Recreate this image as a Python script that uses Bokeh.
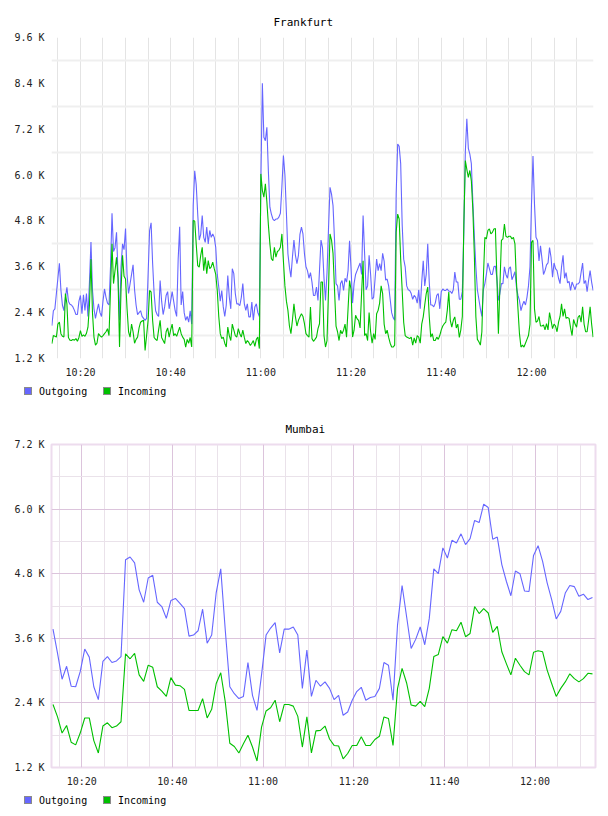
import pandas as pd
from bokeh.embed import file_html
from bokeh.layouts import column
from bokeh.models import (DatetimeTickFormatter, Div, FixedTicker,
                          PrintfTickFormatter, Range1d)
from bokeh.plotting import figure
from bokeh.resources import INLINE

DAY = "2024-05-14"

# Frankfurt traffic, one sample every 20 seconds, in thousands
fra_start = "10:13:40"
fra_step = "20s"
fra_outgoing = [
    2.06, 2.45, 2.5, 2.9, 3.3, 3.69, 3.0, 2.6, 2.45, 2.8,
    3.06, 2.7, 2.62, 2.6, 2.55, 2.46, 2.35, 2.35, 2.7, 2.85,
    2.37, 2.87, 2.46, 2.9, 2.3, 3.2, 4.25, 3.0, 2.5, 2.25,
    2.45, 2.63, 2.4, 2.3, 2.7, 3.02, 2.8, 2.65, 2.6, 3.6,
    5.0, 4.0, 4.1, 4.5, 3.4, 2.2, 3.6, 4.2, 4.05, 4.6,
    3.4, 2.9, 3.15, 3.4, 3.65, 3.0, 2.6, 2.35, 2.4, 2.45,
    2.3, 2.25, 2.2, 2.25, 3.4, 4.55, 4.75, 3.7, 2.9, 2.45,
    2.35, 2.3, 3.24, 2.7, 2.35, 2.55, 2.85, 2.95, 2.5, 2.7,
    2.95, 2.7, 2.45, 2.3, 3.8, 4.65, 2.6, 2.95, 2.4, 2.2,
    2.3, 2.15, 2.45, 2.1, 5.2, 6.11, 5.75, 4.98, 4.3, 4.45,
    4.94, 4.37, 4.24, 4.64, 4.2, 4.55, 4.37, 4.46, 4.37, 4.1,
    3.4, 3.07, 2.7, 2.98, 2.55, 2.3, 2.6, 3.37, 2.81, 2.5,
    3.55, 3.42, 2.9, 2.63, 2.63, 2.58, 2.8, 3.16, 2.63, 2.46,
    2.63, 2.29, 2.29, 2.68, 2.2, 2.55, 2.63, 2.4, 2.3, 5.8,
    8.4, 6.99, 6.9, 7.25, 6.1, 5.16, 4.98, 4.85, 4.81, 4.85,
    4.85, 4.9, 5.0, 5.7, 6.51, 6.0, 5.0, 3.94, 3.59, 3.33,
    3.85, 4.3, 3.9, 3.68, 3.9, 4.45, 4.64, 4.46, 3.94, 3.6,
    3.5, 3.3, 3.45, 3.2, 2.85, 2.85, 3.07, 2.72, 3.5, 4.3,
    4.1, 3.3, 2.72, 3.45, 4.6, 5.68, 5.5, 5.2, 4.3, 3.16,
    3.1, 2.72, 3.16, 3.24, 2.98, 3.3, 3.2, 3.5, 4.28, 3.55,
    2.65, 3.16, 3.4, 3.5, 3.6, 3.7, 3.4, 4.94, 3.95, 3.0,
    3.1, 3.9, 3.4, 2.75, 2.8, 3.3, 3.8, 3.5, 3.68, 3.5,
    3.95, 3.75, 3.25, 3.28, 3.1, 2.75, 2.4, 2.27, 2.2, 5.5,
    6.81, 6.75, 6.3, 4.7, 3.8, 3.6, 3.1, 3.0, 2.98, 2.9,
    2.75, 2.85, 2.8, 2.65, 3.0, 2.5, 3.2, 3.76, 3.1, 3.4,
    4.2, 3.2, 2.6, 2.6, 2.55, 2.65, 2.85, 2.9, 2.5, 2.95,
    3.02, 2.98, 2.98, 3.02, 2.96, 2.96, 2.9, 3.0, 3.46, 3.2,
    3.2, 2.75, 2.75, 2.95, 4.5, 6.6, 7.47, 6.7, 6.55, 6.3,
    5.3, 4.4, 3.6, 3.0, 2.75, 2.5, 2.3, 3.0, 3.16, 3.4,
    3.7, 3.55, 3.4, 3.4, 3.6, 3.62, 3.3, 2.72, 2.9, 3.16,
    3.16, 3.6, 3.4, 3.3, 3.55, 3.6, 3.26, 3.36, 3.47, 3.07,
    2.85, 2.72, 2.45, 2.6, 2.7, 2.6, 2.8, 3.1, 3.6, 5.24,
    6.5, 5.24, 4.37, 4.29, 3.75, 4.15, 3.8, 3.4, 3.5, 3.65,
    3.7, 4.1, 3.85, 3.33, 3.7, 3.55, 3.5, 3.3, 3.16, 3.6,
    3.9, 3.3, 3.45, 3.18, 3.22, 2.98, 3.2, 3.1, 3.0, 3.15,
    3.15, 3.2, 3.45, 3.7, 3.16, 3.24, 2.95, 3.25, 3.5, 3.2,
    2.98,
]
fra_incoming = [
    1.59, 1.8, 1.78, 1.76, 2.1, 2.15, 1.85, 1.78, 1.76, 2.9,
    2.63, 1.75, 1.68, 1.67, 1.7, 1.68, 1.72, 1.65, 1.75, 1.93,
    1.78, 1.82, 1.78, 1.86, 2.02, 2.6, 3.8, 2.4, 1.76, 1.55,
    1.6, 1.85, 1.8, 1.76, 1.8, 1.85, 1.9, 1.98, 1.8, 3.0,
    4.2, 3.16, 3.5, 3.85, 3.3, 1.5, 3.0, 3.9, 3.35, 3.28,
    2.5, 1.9, 1.76, 2.1, 1.9, 1.6, 1.7, 1.76, 2.0, 2.15,
    2.18, 2.2, 1.41, 1.8, 2.2, 2.98, 2.94, 2.2, 1.75, 1.7,
    1.67, 1.95, 2.2, 1.75, 1.67, 1.59, 1.9, 2.0, 1.76, 1.95,
    2.1, 1.8, 1.85, 1.78, 1.9, 2.02, 1.85, 1.76, 1.7, 1.5,
    1.7, 1.6, 1.75, 1.5, 4.81, 4.8, 4.2, 3.63, 3.59, 3.9,
    4.11, 3.5, 3.85, 3.42, 3.76, 3.55, 3.6, 3.72, 3.55, 3.4,
    2.98, 2.3, 1.85, 1.72, 1.76, 1.6, 1.5, 2.02, 1.8, 1.67,
    2.1, 1.95, 1.8, 1.76, 1.98, 1.85, 1.76, 1.94, 1.75, 1.59,
    1.67, 1.62, 1.54, 1.6, 1.67, 1.52, 1.7, 1.76, 1.46, 6.03,
    5.6, 5.42, 5.77, 5.3, 4.7, 4.2, 3.81, 3.76, 4.11, 3.85,
    4.0, 4.03, 4.11, 4.46, 3.75, 3.1, 2.7, 2.46, 2.05, 1.85,
    2.2, 2.63, 2.29, 2.05, 2.2, 2.29, 2.37, 2.3, 2.11, 1.85,
    1.8, 1.76, 2.55, 1.72, 1.65, 1.7, 1.76, 1.98, 2.11, 3.2,
    3.2, 1.8, 1.5, 1.67, 3.0, 4.46, 4.3, 3.95, 3.0, 2.05,
    1.9, 1.67, 1.94, 1.85, 1.94, 2.1, 1.76, 2.5, 3.24, 3.0,
    1.76, 1.94, 2.33, 2.24, 2.2, 2.0, 2.9, 3.76, 1.8, 1.85,
    1.67, 2.4, 1.9, 1.6, 1.85, 1.7, 2.37, 2.46, 2.65, 3.1,
    2.9, 2.1, 1.85, 1.94, 1.75, 1.6, 1.5, 1.5, 1.55, 4.5,
    4.98, 4.85, 3.8, 2.98, 2.15, 1.8, 1.76, 1.74, 1.72, 1.76,
    1.55, 1.74, 1.6, 1.8, 1.76, 1.6, 2.1, 2.29, 2.6, 2.9,
    3.07, 2.3, 1.76, 1.85, 1.67, 1.67, 1.76, 1.7, 1.8, 1.95,
    2.05, 2.11, 2.15, 2.46, 2.94, 2.2, 2.02, 2.2, 2.29, 2.0,
    2.1, 1.75, 1.95, 2.3, 4.7, 6.38, 6.15, 5.94, 6.12, 5.85,
    5.1, 3.9, 2.3, 1.7, 1.64, 1.55, 1.9, 3.3, 4.37, 4.33,
    4.55, 4.59, 4.46, 4.5, 4.59, 4.6, 3.3, 1.85, 3.1, 4.29,
    4.33, 4.72, 4.4, 4.37, 4.4, 4.4, 4.33, 4.37, 4.2, 3.2,
    2.5, 1.85, 1.5, 1.55, 1.5, 1.6, 1.7, 1.8, 2.1, 4.24,
    4.29, 2.5, 2.15, 2.18, 2.3, 2.05, 2.05, 2.08, 1.95, 2.11,
    1.95, 2.4, 2.2, 1.98, 2.1, 2.05, 1.9, 2.15, 2.3, 2.63,
    2.3, 2.5, 2.25, 2.27, 2.25, 2.0, 1.8, 2.22, 2.1, 2.02,
    2.28, 2.33, 2.15, 2.55, 2.1, 1.9, 1.9, 2.2, 2.55, 2.1,
    1.76,
]

# Mumbai traffic, one sample per minute, in thousands
mum_start = "10:13:40"
mum_step = "60s"
mum_outgoing = [
    3.77, 3.32, 2.84, 3.08, 2.71, 2.70, 2.98, 3.40, 3.25, 2.70,
    2.46, 3.17, 3.26, 3.15, 3.18, 3.26, 5.06, 5.11, 5.0, 4.5,
    4.27, 4.72, 4.77, 4.27, 4.19, 3.97, 4.30, 4.34, 4.25, 4.15,
    3.64, 3.66, 3.74, 4.14, 3.51, 3.66, 4.45, 4.89, 3.75, 2.70,
    2.57, 2.48, 2.52, 3.15, 2.54, 2.26, 2.92, 3.66, 3.79, 3.89,
    3.33, 3.77, 3.77, 3.81, 3.66, 2.67, 3.38, 2.52, 2.82, 2.71,
    2.79, 2.67, 2.46, 2.54, 2.17, 2.23, 2.45, 2.61, 2.69, 2.45,
    2.50, 2.52, 2.67, 3.15, 3.10, 2.45, 3.85, 4.58, 4.0, 3.41,
    3.58, 3.81, 3.48, 3.97, 4.89, 4.80, 5.28, 5.09, 5.42, 5.37,
    5.54, 5.34, 5.45, 5.79, 5.75, 6.09, 6.03, 5.44, 5.48, 4.97,
    4.66, 4.39, 4.85, 4.80, 4.48, 4.47, 5.14, 5.32, 5.03, 4.63,
    4.32, 3.96, 4.1, 4.44, 4.58, 4.56, 4.38, 4.42, 4.32, 4.36,
]
mum_incoming = [
    2.37, 2.14, 1.84, 1.98, 1.67, 1.62, 1.84, 2.12, 2.12, 1.70,
    1.47, 1.97, 2.03, 1.94, 1.97, 2.05, 3.31, 3.22, 3.32, 2.92,
    2.80, 3.10, 3.06, 2.70, 2.62, 2.52, 2.87, 2.73, 2.72, 2.65,
    2.26, 2.26, 2.26, 2.48, 2.12, 2.28, 2.76, 2.96, 2.42, 1.65,
    1.59, 1.47, 1.64, 1.80, 1.58, 1.32, 1.95, 2.25, 2.31, 2.45,
    2.05, 2.37, 2.37, 2.34, 2.15, 1.58, 2.14, 1.47, 1.88, 1.89,
    1.97, 1.73, 1.61, 1.60, 1.36, 1.46, 1.61, 1.61, 1.77, 1.61,
    1.61, 1.72, 1.78, 2.14, 2.11, 1.61, 2.67, 3.04, 2.77, 2.36,
    2.34, 2.43, 2.33, 2.67, 3.26, 3.30, 3.63, 3.51, 3.76, 3.74,
    3.90, 3.63, 3.69, 4.19, 4.06, 4.15, 4.07, 3.71, 3.82, 3.35,
    3.13, 2.92, 3.23, 3.10, 2.98, 2.92, 3.34, 3.37, 3.35, 3.01,
    2.76, 2.52, 2.67, 2.79, 2.94, 2.85, 2.79, 2.85, 2.95, 2.94,
]

time_labels = ["10:20", "10:40", "11:00", "11:20", "11:40", "12:00"]
fra_y_labels = [1.2, 2.4, 3.6, 4.8, 6.0, 7.2, 8.4, 9.6]
fra_y_grid = [1.8, 3.0, 4.2, 5.4, 6.6, 7.8, 9.0]
mum_y_labels = [1.2, 2.4, 3.6, 4.8, 6.0, 7.2]
mum_y_grid = [1.8, 3.0, 4.2, 5.4, 6.6]
series_names = ["Outgoing", "Incoming"]

BLUE = "#6666ff"
GREEN = "#00c000"
MONO = "DejaVu Sans Mono"


def ms(hhmmss):
    return pd.Timestamp(f"{DAY} {hhmmss}").value / 1e6


label_ticks = [ms(t) for t in time_labels]
five_min_ticks = [t.value / 1e6 for t in pd.date_range(f"{DAY} 10:15", f"{DAY} 12:10", freq="5min")]
minor_x_ticks = [t for t in five_min_ticks if t not in label_ticks]


def build(name, start, step, outgoing, incoming, x_window, y_labels,
          frame, borders, title_offset):
    times = pd.date_range(f"{DAY} {start}", periods=len(outgoing), freq=step)
    left, right, top, bottom = borders
    p = figure(
        x_axis_type="datetime",
        x_range=Range1d(ms(x_window[0]), ms(x_window[1])),
        y_range=Range1d(y_labels[0], y_labels[-1]),
        frame_width=frame[0], frame_height=frame[1],
        min_border_left=left, min_border_right=right,
        min_border_top=top, min_border_bottom=bottom,
        output_backend="svg", toolbar_location=None,
        background_fill_color="white", border_fill_color="white",
    )
    p.title.text = name
    p.title.align = "left"
    p.title.offset = title_offset
    p.title.standoff = 18
    p.title.text_font = MONO
    p.title.text_font_size = "11px"
    p.title.text_font_style = "normal"
    p.title.text_color = "#000000"

    for ax in (p.xaxis[0], p.yaxis[0]):
        ax.axis_line_color = None
        ax.major_tick_line_color = None
        ax.minor_tick_line_color = None
        ax.major_tick_out = 0
        ax.major_tick_in = 0
        ax.major_label_text_font = MONO
        ax.major_label_text_font_size = "10px"
        ax.major_label_text_color = "#222222"

    p.xaxis.ticker = FixedTicker(ticks=label_ticks)
    p.xaxis.formatter = DatetimeTickFormatter(
        minutes="%H:%M", hourmin="%H:%M", hours="%H:%M", minsec="%H:%M")
    p.xaxis.major_label_standoff = 8
    p.yaxis.ticker = FixedTicker(ticks=y_labels)
    p.yaxis.formatter = PrintfTickFormatter(format="%.1f K")
    p.yaxis.major_label_standoff = 7

    p.line(times, outgoing, line_color=BLUE, line_width=1.1)
    p.line(times, incoming, line_color=GREEN, line_width=1.1)
    return p


def legend_strip(height, swatch_top):
    # square swatch + name for each series, laid out like a chart key
    parts = []
    for (sx, tx), name, color in zip([(24, 39), (103, 118)], series_names, [BLUE, GREEN]):
        parts.append(
            f'<span style="position:absolute;left:{sx}px;top:{swatch_top}px;'
            f'width:8px;height:8px;background:{color};border:1px solid #8a8a8a;"></span>'
            f'<span style="position:absolute;left:{tx}px;top:{swatch_top - 1}px;'
            f'line-height:12px;">{name}</span>'
        )
    html = (f'<div style="position:relative;width:608px;height:{height}px;'
            f"font-family:'{MONO}';font-size:10px;color:#000;\">"
            + "".join(parts) + "</div>")
    return Div(text=html, width=608, height=height, margin=0)


fra = build("Frankfurt", fra_start, fra_step, fra_outgoing, fra_incoming,
            ("10:13:35", "12:13:45"), fra_y_labels,
            (542, 321), (51, 15, 37, 22), 222)
fra.outline_line_color = None
fra.xgrid.ticker = FixedTicker(ticks=five_min_ticks)
fra.xgrid.grid_line_color = "#e4e4e4"
fra.xgrid.grid_line_width = 1
fra.ygrid.ticker = FixedTicker(ticks=fra_y_grid)
fra.ygrid.grid_line_color = "#efefef"
fra.ygrid.grid_line_width = 2

mum = build("Mumbai", mum_start, mum_step, mum_outgoing, mum_incoming,
            ("10:13:20", "12:13:20"), mum_y_labels,
            (544, 323), (50, 14, 36, 22), 234)
mum.outline_line_color = "#eddcee"
mum.outline_line_width = 2
mum.xgrid.ticker = FixedTicker(ticks=label_ticks, minor_ticks=minor_x_ticks)
mum.xgrid.grid_line_color = "#dcc4dc"
mum.xgrid.minor_grid_line_color = "#eae2ea"
mum.ygrid.ticker = FixedTicker(ticks=mum_y_labels, minor_ticks=mum_y_grid)
mum.ygrid.grid_line_color = "#dcc4dc"
mum.ygrid.minor_grid_line_color = "#eae2ea"

layout = column(fra, legend_strip(28, 7), mum, legend_strip(27, 7), spacing=0)
open("out.html", "w").write(file_html(layout, INLINE))
